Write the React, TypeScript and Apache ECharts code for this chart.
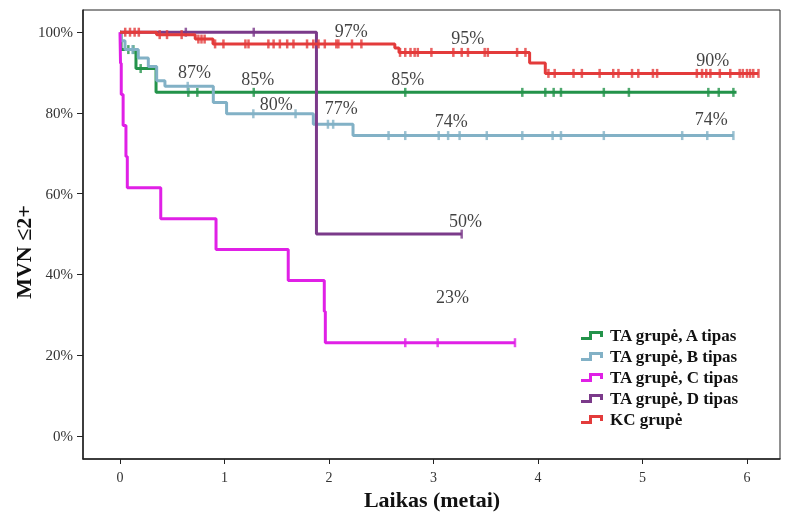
import React, { useEffect, useRef } from "react";
import * as echarts from "echarts";

// Kaplan-Meier steps (time in years, survival %)
const timeA = [0, 0.01, 0.153, 0.345, 5.9];
const survA = [100, 95.7, 91.0, 85.1, 85.1];
const censA = [0.08, 0.128, 0.198, 0.654, 0.74, 1.28, 2.73, 3.85, 4.07, 4.15, 4.22, 4.63, 4.87, 5.63, 5.73, 5.87];

const timeB = [0, 0.01, 0.048, 0.175, 0.271, 0.351, 0.43, 0.893, 1.02, 1.85, 2.23, 5.87];
const survB = [100, 97.9, 95.7, 93.6, 91.5, 88.0, 86.6, 82.6, 79.8, 77.2, 74.4, 74.4];
const censB = [0.12, 0.648, 1.276, 1.68, 1.99, 2.04, 2.57, 2.73, 3.05, 3.14, 3.25, 3.51, 3.85, 4.14, 4.22, 4.63, 5.38, 5.62, 5.87];

const timeC = [0, 0.005, 0.012, 0.03, 0.057, 0.07, 0.39, 0.919, 1.61, 1.955, 1.965, 3.78];
const survC = [100, 92.3, 84.6, 76.9, 69.2, 61.5, 53.8, 46.2, 38.5, 30.8, 23.1, 23.1];
const censC = [2.73, 3.04, 3.78];

const timeD = [0, 1.88, 3.27];
const survD = [100, 50, 50];
const censD = [0.63, 1.28, 3.27];

const timeKC = [0, 0.35, 0.72, 0.89, 2.63, 2.67, 3.92, 4.07, 6.11];
const survKC = [100, 99.4, 98.3, 97.1, 96.1, 95.0, 92.4, 89.8, 89.8];
const censKC = [0.05, 0.096, 0.14, 0.18, 0.38, 0.45, 0.59, 0.75, 0.78, 0.81, 0.91, 0.99, 1.2, 1.23, 1.42, 1.47, 1.53, 1.6, 1.66, 1.79, 1.85, 1.9, 1.96, 2.07, 2.09, 2.22, 2.31, 2.68, 2.73, 2.78, 2.82, 2.85, 2.98, 3.19, 3.27, 3.33, 3.49, 3.52, 3.8, 3.88, 4.1, 4.16, 4.34, 4.42, 4.59, 4.72, 4.77, 4.9, 4.96, 5.1, 5.14, 5.52, 5.57, 5.61, 5.65, 5.74, 5.84, 5.93, 5.96, 6.0, 6.03, 6.06, 6.11];

const seriesNames = ["TA grupė, A tipas", "TA grupė, B tipas", "TA grupė, C tipas", "TA grupė, D tipas", "KC grupė"];

// annotation labels: [time, survival position, text]
const annoT = [2.217, 3.333, 5.678, 0.718, 1.323, 2.759, 1.5, 2.122, 3.174, 5.662, 3.311, 3.187];
const annoP = [100.2, 98.5, 93.1, 90.0, 88.4, 88.4, 82.0, 81.2, 77.9, 78.3, 53.0, 34.2];
const annoText = ["97%", "95%", "90%", "87%", "85%", "85%", "80%", "77%", "74%", "74%", "50%", "23%"];

const xTicks = [0, 1, 2, 3, 4, 5, 6];
const yTicks = [0, 20, 40, 60, 80, 100];
const xTitle = "Laikas (metai)";
const yTitle = "MVN ≤2+";

const colors = ["#23934a", "#82b1c6", "#e020e6", "#7b3a8a", "#e33b3b"];
const FONT = "Liberation Serif";

function survAt(times: number[], surv: number[], t: number) {
  let v = surv[0];
  for (let i = 0; i < times.length; i++) {
    if (times[i] <= t) v = surv[i];
  }
  return v;
}

export default function App() {
  const ref = useRef<HTMLDivElement>(null);
  useEffect(() => {
    document.body.style.margin = "0";
    if (!ref.current) return;
    const chart = echarts.init(ref.current, null, { renderer: "svg" });
    const groups = [
      { t: timeA, s: survA, c: censA },
      { t: timeB, s: survB, c: censB },
      { t: timeC, s: survC, c: censC },
      { t: timeD, s: survD, c: censD },
      { t: timeKC, s: survKC, c: censKC },
    ];
    const order = [1, 0, 2, 4, 3];
    const series: any[] = [];
    order.forEach((gi) => {
      const g = groups[gi];
      series.push({
        name: seriesNames[gi],
        type: "line",
        step: "end",
        showSymbol: false,
        symbol: "none",
        data: g.t.map((t, i) => [t, g.s[i]]),
        lineStyle: { color: colors[gi], width: 3 },
        itemStyle: { color: colors[gi] },
        z: 2 + gi,
      });
      series.push({
        name: seriesNames[gi],
        type: "scatter",
        symbol: "rect",
        symbolSize: [2.5, 9],
        data: g.c.map((t) => [t, survAt(g.t, g.s, t)]),
        itemStyle: { color: colors[gi] },
        z: 2 + gi,
      });
    });
    series.push({
      type: "scatter",
      symbolSize: 1,
      itemStyle: { color: "rgba(0,0,0,0)" },
      data: annoT.map((t, i) => [t, annoP[i], annoText[i]]),
      label: {
        show: true,
        position: [0, 0],
        align: "center",
        verticalAlign: "middle",
        formatter: (p: any) => p.value[2],
        fontFamily: FONT,
        fontSize: 18,
        color: "#111",
        textBorderWidth: 0,
      },
      z: 10,
    });

    const stepIcon = "path://M0,6L8,6L8,0L22,0L22,6L19,6L19,3L11,3L11,9L0,9Z";

    chart.setOption({
      animation: false,
      grid: {
        left: 83,
        top: 10,
        right: 28,
        bottom: 53,
        show: true,
        borderColor: "#222",
        borderWidth: 1,
        outerBoundsMode: "none",
        containLabel: false,
      },
      legend: {
        orient: "vertical",
        left: 576,
        top: 322,
        itemWidth: 22,
        itemHeight: 9,
        itemGap: 4,
        data: seriesNames.map((n, i) => ({ name: n, icon: stepIcon, itemStyle: { color: colors[i] } })),
        textStyle: {
          fontFamily: FONT,
          fontWeight: "bold",
          fontSize: 17,
          lineHeight: 17,
          color: "#111",
          padding: [0, 0, 0, 2],
        },
      },
      xAxis: {
        type: "value",
        min: -0.354,
        max: 6.316,
        axisLine: { show: true, onZero: false, lineStyle: { color: "#222", width: 1.5 } },
        axisTick: { show: true, customValues: xTicks, length: 5, lineStyle: { color: "#222" } },
        axisLabel: { customValues: xTicks, fontFamily: FONT, fontSize: 14, color: "#333", margin: 11 },
        splitLine: { show: false },
      },
      yAxis: {
        type: "value",
        min: -5.7,
        max: 105.5,
        axisLine: { show: true, onZero: false, lineStyle: { color: "#222", width: 1.5 } },
        axisTick: { show: true, customValues: yTicks, length: 6, lineStyle: { color: "#222" } },
        axisLabel: {
          customValues: yTicks,
          formatter: "{value}%",
          fontFamily: FONT,
          fontSize: 15,
          color: "#333",
          margin: 10,
        },
        splitLine: { show: false },
      },
      graphic: [
        {
          type: "text",
          x: 23,
          y: 252,
          rotation: Math.PI / 2,
          style: {
            text: yTitle,
            fontFamily: FONT,
            fontWeight: "bold",
            fontSize: 22,
            fill: "#111",
            textAlign: "center",
            textVerticalAlign: "middle",
          },
        },
        {
          type: "text",
          x: 432,
          y: 499,
          style: {
            text: xTitle,
            fontFamily: FONT,
            fontWeight: "bold",
            fontSize: 22,
            fill: "#111",
            textAlign: "center",
            textVerticalAlign: "middle",
          },
        },
      ],
      series,
    });
    return () => chart.dispose();
  }, []);
  return <div ref={ref} style={{ position: "fixed", left: 0, top: 0, width: 808, height: 512 }} />;
}
